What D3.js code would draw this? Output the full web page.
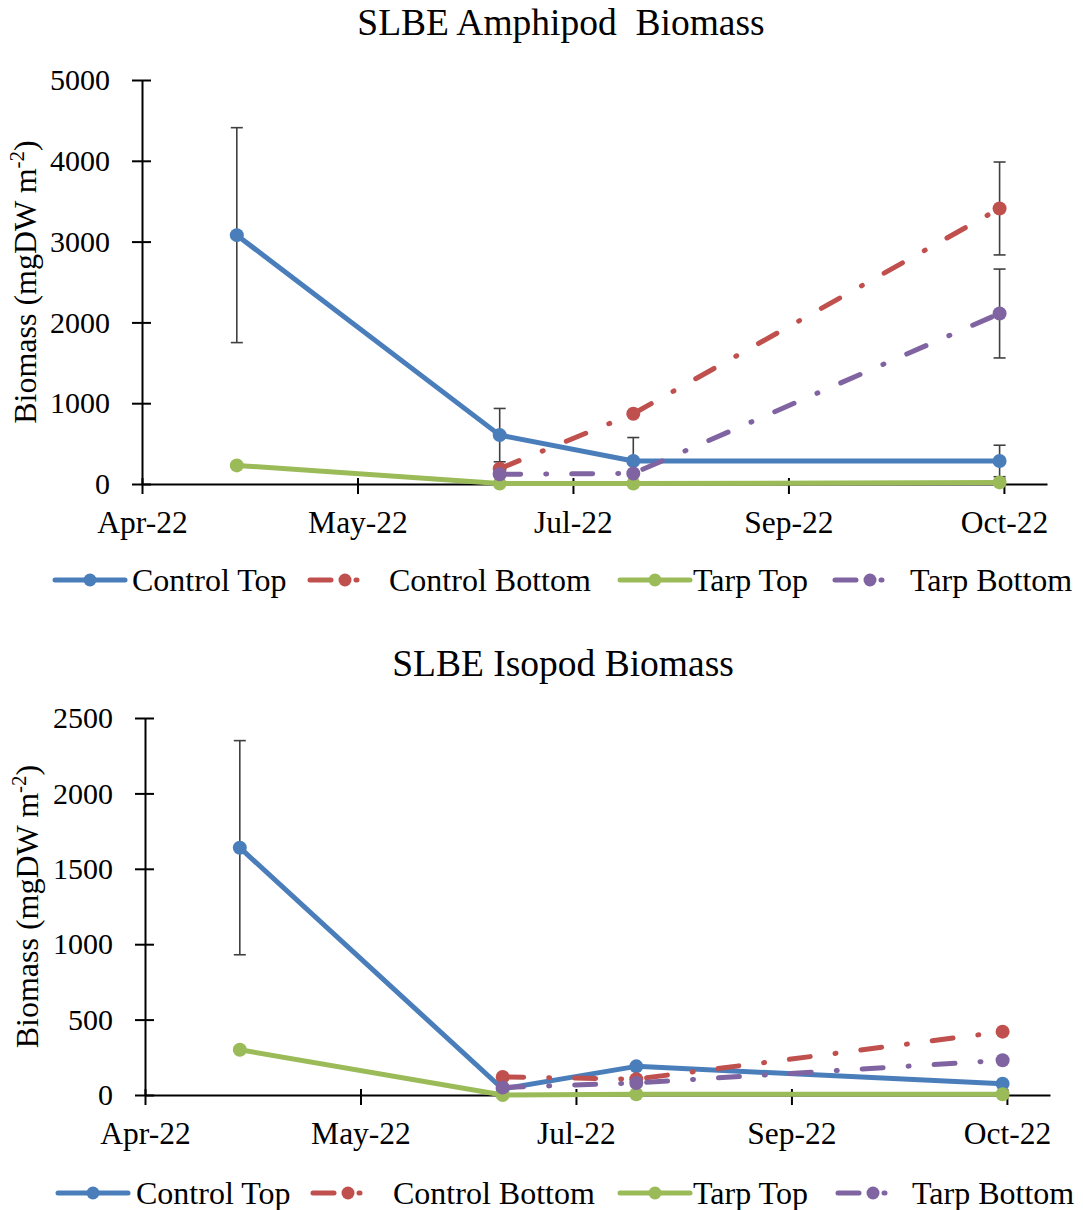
<!DOCTYPE html>
<html>
<head>
<meta charset="utf-8">
<script src="https://cdn.jsdelivr.net/npm/d3@7"></script>
<style>
  html, body { margin: 0; padding: 0; background: #fff; }
  svg { display: block; font-family: "Liberation Serif", "Times New Roman", serif; }
  svg text { font-family: "Liberation Serif", "Times New Roman", serif; }
</style>
</head>
<body>
<svg id="chart" width="1083" height="1210"></svg>
<script>
// Sampling dates (top/surface series sampled on all four, bottom series from June on)
const sampleDates = ["2022-04-30", "2022-06-30", "2022-07-31", "2022-10-24"];
const bottomSampleDates = ["2022-06-30", "2022-07-31", "2022-10-24"];

// Date axis: start, end and major ticks every 50 days
const axisStart = "2022-04-08";
const axisEnd = "2022-11-04";
const xTickDates = ["2022-04-08", "2022-05-28", "2022-07-17", "2022-09-05", "2022-10-25"];

// Amphipod biomass (mgDW m-2) and standard errors
const amphControlTop = [3080, 605, 285, 285];
const amphControlTopErr = [1330, 330, 290, 195];
const amphControlBottom = [190, 870, 3410];
const amphControlBottomErr = [null, null, 575];
const amphTarpTop = [230, 5, 5, 20];
const amphTarpBottom = [120, 130, 2110];
const amphTarpBottomErr = [null, null, 550];
const amphYTicks = [0, 1000, 2000, 3000, 4000, 5000];

// Isopod biomass (mgDW m-2) and standard errors
const isoControlTop = [1640, 40, 190, 75];
const isoControlTopErr = [710, null, null, null];
const isoControlBottom = [120, 105, 420];
const isoTarpTop = [300, 0, 5, 5];
const isoTarpBottom = [50, 80, 230];
const isoYTicks = [0, 500, 1000, 1500, 2000, 2500];

const seriesNames = ["Control Top", "Control Bottom", "Tarp Top", "Tarp Bottom"];
const seriesColors = ["#4A7EBB", "#C0504D", "#9BBB59", "#8064A2"];
const seriesDash = [null, "21,25,1,25", null, "21,25,1,25"];

const parse = d3.timeParse("%Y-%m-%d");
const fmt = d3.timeFormat("%b-%y");
const svg = d3.select("#chart");

function drawChart(cfg) {
  const g = svg.append("g");
  const x = d3.scaleTime()
    .domain([parse(axisStart), parse(axisEnd)])
    .range([cfg.left, cfg.right]);
  const y = d3.scaleLinear()
    .domain([0, d3.max(cfg.yTicks)])
    .range([cfg.bottom, cfg.top]);

  // Title
  g.append("text")
    .attr("x", cfg.titleX).attr("y", cfg.titleY)
    .attr("text-anchor", "middle")
    .attr("font-size", 37.5)
    .attr("fill", "#000")
    .style("white-space", "pre")
    .text(cfg.title);

  // Y axis title with superscript
  const yl = g.append("text")
    .attr("transform", `translate(${cfg.yLabelX},${(cfg.top + cfg.bottom) / 2}) rotate(-90)`)
    .attr("text-anchor", "middle")
    .attr("font-size", 32)
    .attr("fill", "#000");
  yl.append("tspan").text("Biomass (mgDW m");
  yl.append("tspan").attr("font-size", 21).attr("dy", -12).text("-2");
  yl.append("tspan").attr("dy", 12).text(")");

  // Y axis
  const yAxis = g.append("g")
    .attr("transform", `translate(${cfg.left},0)`)
    .call(d3.axisLeft(y).tickValues(cfg.yTicks).tickSize(0).tickPadding(32).tickFormat(d3.format("d")));
  yAxis.select(".domain").attr("stroke", "#000").attr("stroke-width", 2);
  yAxis.selectAll(".tick line").attr("x1", -10).attr("x2", 9).attr("stroke", "#000").attr("stroke-width", 2);
  yAxis.selectAll(".tick text")
    .attr("font-size", 30).attr("font-family", null)
    .attr("fill", "#000");

  // X axis (dates)
  const xAxis = g.append("g")
    .attr("transform", `translate(0,${cfg.bottom})`)
    .call(d3.axisBottom(x).tickValues(xTickDates.map(parse)).tickSize(0).tickPadding(27).tickFormat(fmt));
  xAxis.select(".domain").attr("stroke", "#000").attr("stroke-width", 2);
  xAxis.selectAll(".tick line").attr("y1", -6).attr("y2", 10).attr("stroke", "#000").attr("stroke-width", 2);
  xAxis.selectAll(".tick text")
    .attr("font-size", 31.5).attr("font-family", null)
    .attr("fill", "#000");
  g.selectAll(".tick text").attr("font-family", null);
  yAxis.attr("font-family", null);
  xAxis.attr("font-family", null);

  const line = d3.line().x(d => x(d.date)).y(d => y(d.v));

  cfg.series.forEach((s, i) => {
    const pts = s.values.map((v, k) => ({ date: parse(s.dates[k]), v: v, e: s.err ? s.err[k] : null }));
    // Error bars
    pts.filter(p => p.e != null).forEach(p => {
      const px = x(p.date);
      const eg = g.append("g").attr("stroke", "#404040").attr("stroke-width", 1.6);
      const hi = y(p.v + p.e), lo = y(Math.max(0, p.v - p.e));
      eg.append("line").attr("x1", px).attr("x2", px).attr("y1", hi).attr("y2", lo);
      eg.append("line").attr("x1", px - 6).attr("x2", px + 6).attr("y1", hi).attr("y2", hi);
      eg.append("line").attr("x1", px - 6).attr("x2", px + 6).attr("y1", lo).attr("y2", lo);
    });
    g.append("path")
      .datum(pts)
      .attr("d", line)
      .attr("fill", "none")
      .attr("stroke", seriesColors[i])
      .attr("stroke-width", 5)
      .attr("stroke-linecap", "round")
      .attr("stroke-linejoin", "round")
      .attr("stroke-dasharray", seriesDash[i]);
    g.selectAll(null)
      .data(pts)
      .enter().append("circle")
      .attr("cx", d => x(d.date)).attr("cy", d => y(d.v))
      .attr("r", 7)
      .attr("fill", seriesColors[i]);
  });

  // Legend
  seriesNames.forEach((name, i) => {
    const sx = cfg.legendSym[i];
    const ly = cfg.legendY;
    g.append("line")
      .attr("x1", sx).attr("x2", sx + 70).attr("y1", ly).attr("y2", ly)
      .attr("stroke", seriesColors[i]).attr("stroke-width", 5)
      .attr("stroke-linecap", "round")
      .attr("stroke-dasharray", seriesDash[i]);
    g.append("circle").attr("cx", sx + 35).attr("cy", ly).attr("r", 6.5).attr("fill", seriesColors[i]);
    g.append("text")
      .attr("x", cfg.legendText[i]).attr("y", ly + 11)
      .attr("font-size", 32).attr("fill", "#000")
      .text(name);
  });
}

drawChart({
  title: "SLBE Amphipod  Biomass",
  titleX: 561, titleY: 35,
  left: 142, right: 1047, top: 80, bottom: 484,
  yLabelX: 36,
  yTicks: amphYTicks,
  series: [
    { dates: sampleDates, values: amphControlTop, err: amphControlTopErr },
    { dates: bottomSampleDates, values: amphControlBottom, err: amphControlBottomErr },
    { dates: sampleDates, values: amphTarpTop },
    { dates: bottomSampleDates, values: amphTarpBottom, err: amphTarpBottomErr }
  ],
  legendY: 580,
  legendSym: [55, 310, 620, 835],
  legendText: [132, 389, 693, 910]
});

drawChart({
  title: "SLBE Isopod Biomass",
  titleX: 563, titleY: 676,
  left: 145, right: 1050, top: 718, bottom: 1095,
  yLabelX: 38,
  yTicks: isoYTicks,
  series: [
    { dates: sampleDates, values: isoControlTop, err: isoControlTopErr },
    { dates: bottomSampleDates, values: isoControlBottom },
    { dates: sampleDates, values: isoTarpTop },
    { dates: bottomSampleDates, values: isoTarpBottom }
  ],
  legendY: 1193,
  legendSym: [58, 313, 620, 838],
  legendText: [136, 393, 693, 912]
});
</script>
</body>
</html>
